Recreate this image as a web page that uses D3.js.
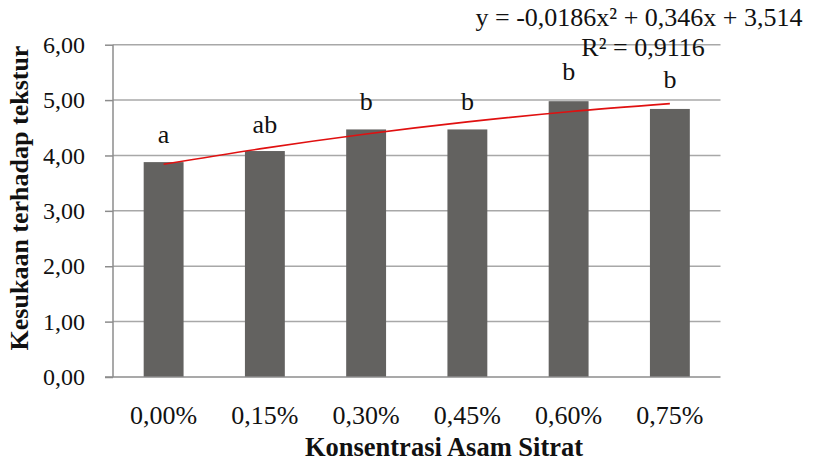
<!DOCTYPE html>
<html><head><meta charset="utf-8">
<script src="https://cdn.jsdelivr.net/npm/d3@7"></script>
<style>
body{margin:0;background:#fff}
svg{display:block}
text{font-family:"Liberation Serif","Times New Roman",serif;fill:#111}
</style>
</head><body>
<svg id="c" width="815" height="463"></svg>
<script>
// ---- data ----
const categories = ["0,00%","0,15%","0,30%","0,45%","0,60%","0,75%"];
const values = [3.88, 4.08, 4.47, 4.47, 4.98, 4.84];
const letters = ["a","ab","b","b","b","b"];
const trendValues = [3.841, 4.132, 4.387, 4.606, 4.789, 4.936];
const yTicks = [0, 1, 2, 3, 4, 5, 6];
const yTickLabels = ["0,00","1,00","2,00","3,00","4,00","5,00","6,00"];
const equationText = "y = -0,0186x² + 0,346x + 3,514";
const r2Text = "R² = 0,9116";
const xTitle = "Konsentrasi Asam Sitrat";
const yTitle = "Kesukaan terhadap tekstur";

// ---- layout ----
const letterOffsets = [19, 18.5, 19.5, 19.5, 21, 20.5];
const plotLeft = 113, plotRight = 720.5, plotTop = 44.7, plotBottom = 377;

const svg = d3.select("#c");
const x = d3.scaleBand().domain(categories).range([plotLeft, plotRight]).paddingInner(0.606).paddingOuter(0.303);
const y = d3.scaleLinear().domain([0, 6]).range([plotBottom, plotTop]);
const bw = x.bandwidth();

// gridlines
svg.append("g").selectAll("line").data(yTicks.filter(d => d > 0)).join("line")
  .attr("x1", plotLeft).attr("x2", plotRight)
  .attr("y1", d => y(d)).attr("y2", d => y(d))
  .attr("stroke", "#a8a8a8").attr("stroke-width", 1.5);

// bars
svg.append("g").selectAll("rect").data(values).join("rect")
  .attr("x", (d, i) => x(categories[i]))
  .attr("width", bw)
  .attr("y", d => y(d))
  .attr("height", d => y(0) - y(d))
  .attr("fill", "#636260");

// trendline
const line = d3.line()
  .x((d, i) => x(categories[i]) + bw / 2)
  .y(d => y(d))
  .curve(d3.curveCatmullRom);
svg.append("path").datum(trendValues).attr("d", line)
  .attr("fill", "none").attr("stroke", "#e01010").attr("stroke-width", 1.6);

// y axis
const yAxis = d3.axisLeft(y).tickValues(yTicks).tickSize(8).tickPadding(20)
  .tickFormat((d, i) => yTickLabels[i]);
const gy = svg.append("g").attr("transform", `translate(${plotLeft},0)`).call(yAxis);
gy.select(".domain").attr("stroke", "#8c8c8c").attr("stroke-width", 1.5).attr("d", `M0,${plotTop}V${plotBottom}`);
gy.selectAll(".tick line").attr("stroke", "#8c8c8c").attr("stroke-width", 1.5);
gy.selectAll(".tick text").style("font-family", '"Liberation Serif",serif').style("font-size", "24px").attr("fill", "#111");

// x axis
const xAxis = d3.axisBottom(x).tickSize(0).tickPadding(29);
const gx = svg.append("g").attr("transform", `translate(0,${plotBottom})`).call(xAxis);
gx.select(".domain").attr("stroke", "#8c8c8c").attr("stroke-width", 1.5).attr("d", `M${plotLeft - 8},0H${plotRight}`);
gx.selectAll(".tick text").style("font-family", '"Liberation Serif",serif').style("font-size", "26px").attr("fill", "#111");

// significance letters
svg.append("g").selectAll("text").data(letters).join("text")
  .attr("x", (d, i) => x(categories[i]) + bw / 2)
  .attr("y", (d, i) => y(values[i]) - letterOffsets[i])
  .attr("text-anchor", "middle")
  .style("font-size", "26px")
  .text(d => d);

// trendline equation
svg.append("text").attr("x", 639).attr("y", 26).attr("text-anchor", "middle")
  .style("font-size", "26px").text(equationText);
svg.append("text").attr("x", 643).attr("y", 56).attr("text-anchor", "middle")
  .style("font-size", "26px").text(r2Text);

// axis titles
svg.append("text").attr("x", 444).attr("y", 456).attr("text-anchor", "middle")
  .style("font-size", "26.5px").style("font-weight", "bold").attr("fill", "#000").text(xTitle);
svg.append("text").attr("transform", "translate(28,198) rotate(-90)").attr("text-anchor", "middle")
  .style("font-size", "26px").style("font-weight", "bold").attr("fill", "#000").text(yTitle);
</script>
</body></html>
